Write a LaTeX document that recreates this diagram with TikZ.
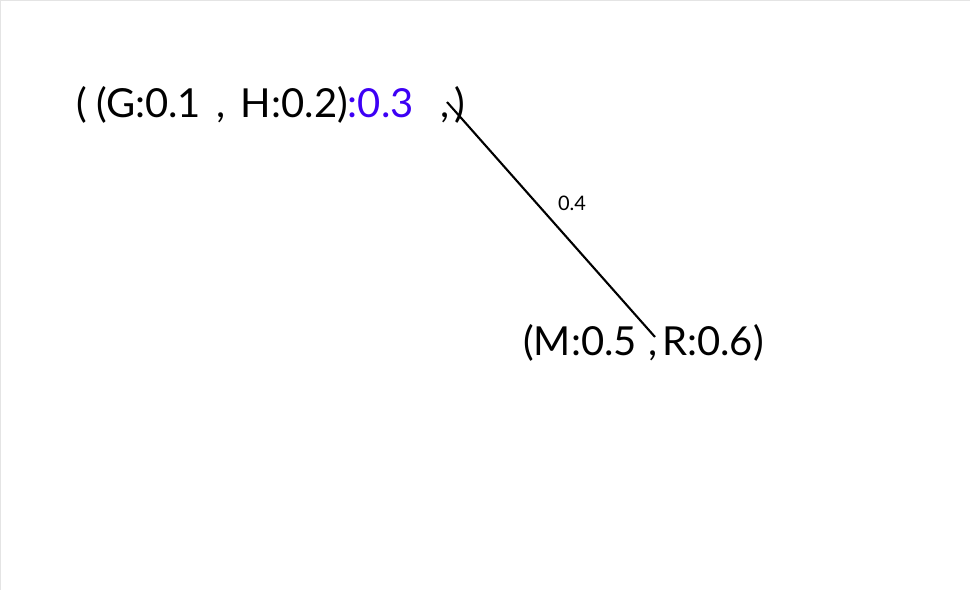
\documentclass[tikz,border=0pt]{standalone}
\usepackage{fontspec}
\setmainfont{Lato}[WordSpace=1.5]
\usetikzlibrary{positioning}
\definecolor{ink}{HTML}{000000}
\definecolor{violet}{HTML}{3D00F5}
\definecolor{frame}{HTML}{E4E4E4}

\begin{document}
\begin{tikzpicture}[x=1pt,y=-1pt,inner sep=0pt,
  tree/.style={font=\fontsize{40}{40}\selectfont,text=ink,anchor=base west},
  len/.style={font=\fontsize{20}{20}\selectfont,text=ink}]
\useasboundingbox (0,0) rectangle (970,590);
\draw[frame,line width=1.5pt] (0,590) -- (0,0) -- (970,0);
\node[tree] (open1) at (76,117) {(};
\node[tree] (outer) at (96,117) {(G:0.1 , H:0.2)\textcolor{violet}{:0.3}};
\node[tree] (comma1) at (440,117) {,};
\node[tree] (close1) at (454,117) {)};
\node[tree] (inner) at (523,355) {(M:0.5};
\node[tree] (comma2) at (648,355) {,};
\node[tree] (rest) at (662,355) {R:0.6)};
\coordinate (topjoin) at (447,102);
\coordinate (botjoin) at (655,337);
\draw[ink,line width=2.1pt] (topjoin) -- node[len,above right=8pt and 6pt] (edgelen) {0.4} (botjoin);
\end{tikzpicture}
\end{document}
